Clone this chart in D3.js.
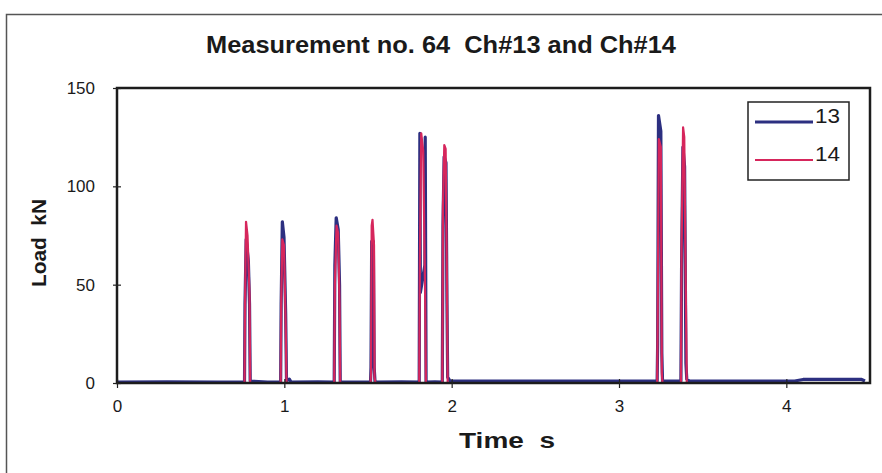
<!DOCTYPE html>
<html>
<head>
<meta charset="utf-8">
<script src="https://cdn.jsdelivr.net/npm/d3@7"></script>
<style>
  html, body { margin: 0; padding: 0; background: #fff; }
  svg { display: block; }
  text { font-family: "Liberation Sans", Arial, sans-serif; fill: #1a1a1a; }
</style>
</head>
<body>
<svg id="chart" width="882" height="473"></svg>
<script>
// Load channel 13 (time in s, load in kN)
const time13 = [0, 0.30, 0.60, 0.762, 0.765, 0.772, 0.785, 0.792, 0.796, 0.90,
  0.978, 0.981, 0.988, 0.998, 1.008, 1.013, 1.03, 1.04, 1.20,
  1.298, 1.302, 1.31, 1.322, 1.33, 1.334, 1.45,
  1.515, 1.518, 1.522, 1.532, 1.537, 1.542, 1.70,
  1.806, 1.81, 1.813, 1.84, 1.842, 1.847, 1.90,
  1.944, 1.948, 1.955, 1.966, 1.972, 1.976, 1.99, 2.40, 2.90,
  3.228, 3.231, 3.236, 3.25, 3.256, 3.26, 3.27,
  3.37, 3.374, 3.382, 3.392, 3.40, 3.405, 3.42, 3.70, 4.05, 4.10, 4.30, 4.45, 4.47];
const load13 = [0.5, 0.6, 0.5, 0.5, 40, 73, 62, 40, 1, 0.5,
  0.5, 40, 82, 74, 35, 1, 2, 0.5, 0.6,
  0.5, 60, 84, 78, 50, 0.5, 0.5,
  0.5, 8, 72, 72, 8, 0.5, 0.6,
  0.5, 127, 46, 60, 125, 0.5, 0.6,
  0.5, 80, 115, 112, 40, 3, 1, 1, 1,
  1, 20, 136, 128, 15, 1, 1,
  1, 60, 120, 110, 10, 2, 1, 1, 1, 1.8, 1.8, 1.8, 1];

// Load channel 14 (time in s, load in kN)
const time14 = [0, 0.762, 0.765, 0.771, 0.78, 0.792, 0.796,
  0.978, 0.981, 0.988, 0.998, 1.008, 1.013,
  1.298, 1.302, 1.312, 1.322, 1.33, 1.334,
  1.515, 1.518, 1.522, 1.527, 1.536, 1.539, 1.545,
  1.806, 1.81, 1.818, 1.83, 1.842, 1.846,
  1.944, 1.948, 1.956, 1.964, 1.972, 1.976,
  3.228, 3.231, 3.238, 3.25, 3.256, 3.26,
  3.37, 3.374, 3.383, 3.39, 3.40, 3.405, 4.47];
const load14 = [0, 0, 40, 82, 75, 45, 0,
  0, 40, 73, 70, 30, 0,
  0, 50, 80, 76, 40, 0,
  0, 5, 80, 83, 70, 3, 0,
  0, 60, 127, 118, 40, 0,
  0, 90, 121, 119, 50, 0,
  0, 30, 124, 120, 5, 0,
  0, 70, 130, 125, 40, 0, 0];

const seriesNames = ["13", "14"];
const xTicks = [0, 1, 2, 3, 4];
const yTicks = [0, 50, 100, 150];

const titleText = "Measurement no. 64  Ch#13 and Ch#14";
const xLabel = "Time  s";
const yLabel = "Load  kN";

const svg = d3.select("#chart");
const colors = { "13": "#2c2f80", "14": "#d6265c" };

// outer chart frame
svg.append("rect")
  .attr("x", 6.5).attr("y", 14.5)
  .attr("width", 880).attr("height", 470)
  .attr("fill", "none").attr("stroke", "#555").attr("stroke-width", 1.5);

const plot = { left: 117, top: 88, right: 870, bottom: 383 };

const x = d3.scaleLinear().domain([0, 4.5]).range([plot.left, plot.right]);
const y = d3.scaleLinear().domain([0, 150]).range([plot.bottom, plot.top]);

// title
svg.append("text")
  .attr("x", 441).attr("y", 53)
  .attr("text-anchor", "middle")
  .attr("textLength", 470).attr("lengthAdjust", "spacingAndGlyphs")
  .style("font-size", "23px").style("font-weight", "bold")
  .style("white-space", "pre")
  .text(titleText);

// traces
const line = d3.line().x(d => x(d[0])).y(d => y(d[1]));
const d13 = d3.zip(time13, load13);
const d14 = d3.zip(time14, load14);

svg.append("path").datum(d13)
  .attr("d", line).attr("fill", "none")
  .attr("stroke", colors["13"]).attr("stroke-width", 3.2).attr("stroke-linejoin", "round");
svg.append("path").datum(d14)
  .attr("d", line).attr("fill", "none")
  .attr("stroke", colors["14"]).attr("stroke-width", 2.2).attr("stroke-linejoin", "round");

// plot frame
svg.append("rect")
  .attr("x", plot.left).attr("y", plot.top)
  .attr("width", plot.right - plot.left).attr("height", plot.bottom - plot.top)
  .attr("fill", "none").attr("stroke", "#1c1c1c").attr("stroke-width", 2.5);

// axes
const xAxis = d3.axisBottom(x).tickValues(xTicks).tickFormat(d3.format("d"))
  .tickSizeInner(4).tickSizeOuter(0).tickPadding(13);
const gx = svg.append("g").attr("transform", `translate(0,${plot.bottom})`).call(xAxis);
gx.select(".domain").remove();
gx.selectAll(".tick line").attr("y1", -4).attr("y2", 5).attr("stroke", "#222").attr("stroke-width", 1.2);
gx.selectAll(".tick text").style("font-size", "17px").attr("fill", "#222");

const yAxis = d3.axisLeft(y).tickValues(yTicks)
  .tickSizeInner(4).tickSizeOuter(0).tickPadding(18);
const gy = svg.append("g").attr("transform", `translate(${plot.left},0)`).call(yAxis);
gy.select(".domain").remove();
gy.selectAll(".tick line").attr("x1", -4).attr("x2", 4).attr("stroke", "#222").attr("stroke-width", 1.2);
gy.selectAll(".tick text").style("font-size", "17px").attr("fill", "#222");

// axis titles
svg.append("text")
  .attr("x", 507).attr("y", 448)
  .attr("text-anchor", "middle")
  .attr("textLength", 96).attr("lengthAdjust", "spacingAndGlyphs")
  .style("font-size", "22px").style("font-weight", "bold")
  .style("white-space", "pre")
  .text(xLabel);

svg.append("text")
  .attr("transform", "translate(46,243) rotate(-90)")
  .attr("text-anchor", "middle")
  .attr("textLength", 88).attr("lengthAdjust", "spacingAndGlyphs")
  .style("font-size", "21px").style("font-weight", "bold")
  .style("white-space", "pre")
  .text(yLabel);

// legend
const lg = svg.append("g");
lg.append("rect")
  .attr("x", 748).attr("y", 102).attr("width", 101).attr("height", 78)
  .attr("fill", "#fff").attr("stroke", "#222").attr("stroke-width", 1.5);
seriesNames.forEach((name, i) => {
  const yy = 122 + i * 38;
  lg.append("line")
    .attr("x1", 755).attr("x2", 813).attr("y1", yy).attr("y2", yy)
    .attr("stroke", colors[name]).attr("stroke-width", name === "13" ? 3.2 : 2.2);
  lg.append("text")
    .attr("x", 815).attr("y", yy + 1)
    .attr("textLength", 25).attr("lengthAdjust", "spacingAndGlyphs")
    .style("font-size", "20px")
    .text(name);
});
</script>
</body>
</html>
